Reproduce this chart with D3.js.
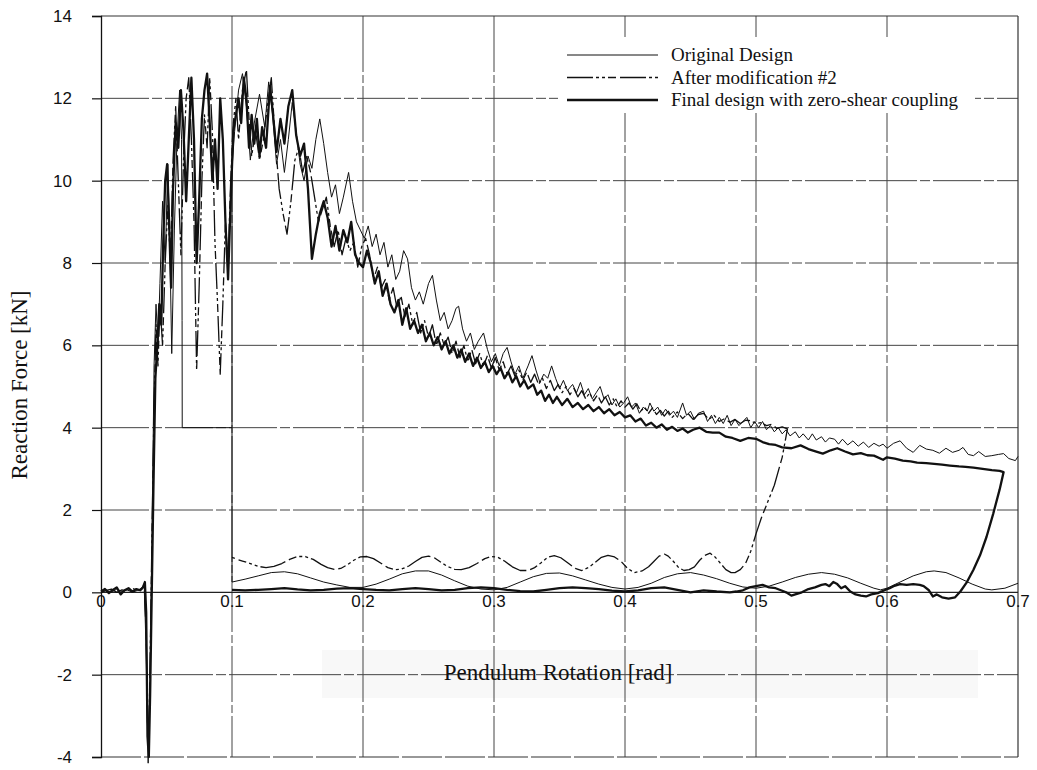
<!DOCTYPE html>
<html><head><meta charset="utf-8">
<script src="https://cdn.jsdelivr.net/npm/d3@7"></script>
<style>body{margin:0;background:#fff;}svg{display:block}</style>
</head><body><svg id="c" width="1037" height="770"></svg>
<script>
// ---- axis ticks ----
const xTicks = [0, 0.1, 0.2, 0.3, 0.4, 0.5, 0.6, 0.7];
const xTickLabels = ["0", "0.1", "0.2", "0.3", "0.4", "0.5", "0.6", "0.7"];
const yTicks = [-4, -2, 0, 2, 4, 6, 8, 10, 12, 14];
const yTickLabels = ["-4", "-2", "0", "2", "4", "6", "8", "10", "12", "14"];
const seriesNames = ["Original Design", "After modification #2", "Final design with zero-shear coupling"];

// ---- Original Design (thin) ----
const originalUpper = [[0,0],[0.004,0.05],[0.008,0.0],[0.012,0.08],[0.016,0.02],[0.02,0.06],[0.024,0.0],[0.028,0.05],[0.031,0.1],[0.033,0.2],[0.0345,-1.5],[0.036,-4.15],[0.0375,-2.0],[0.039,1.5],[0.0405,5.5],[0.042,7.0],[0.0435,6.0],[0.045,7.5],[0.047,9.5],[0.049,8.0],[0.051,10.4],[0.0525,8.5],[0.054,5.8],[0.056,8.8],[0.058,11.0],[0.060,12.2],[0.0615,11.0],[0.0619,6.6],[0.062,4.0],[0.1,4.0],[0.1,10.3],
[0.102,11.2],[0.105,12.2],[0.108,12.6],[0.111,11.8],[0.114,10.5],[0.117,11.4],[0.121,12.1],[0.125,11.3],[0.128,12.4],[0.131,11.6],[0.134,10.4],[0.137,11.0],[0.14,10.2],[0.143,11.0],[0.146,11.9],[0.149,11.2],[0.152,10.4],[0.155,10.0],[0.158,10.6],[0.161,10.3],[0.164,11.0],[0.167,11.5],[0.170,10.9],[0.173,10.2],[0.176,9.6],[0.179,9.9],[0.182,9.2],[0.185,9.6],[0.189,10.2],[0.192,9.5],[0.195,9.0],[0.198,8.8],[0.201,8.6],[0.204,8.9],[0.207,8.4],[0.21,8.7],[0.213,8.2],[0.216,8.5],[0.219,7.9],[0.222,8.2],[0.225,7.6],[0.228,7.8],[0.231,8.3],[0.234,8.1],[0.237,7.4],[0.24,7.1],[0.243,7.3],[0.246,7.0],[0.25,7.5],[0.253,7.7],[0.256,7.1],[0.259,6.6],[0.262,6.8],[0.265,6.4],[0.268,6.6],[0.271,6.9],[0.273,6.95],[0.276,6.4],[0.279,6.1],[0.282,6.3],[0.285,5.9],[0.288,6.1],[0.292,6.3],[0.295,5.9],[0.298,5.6],[0.301,5.8],[0.304,5.5],[0.307,5.8],[0.31,5.95],[0.313,5.6],[0.316,5.3],[0.319,5.5],[0.322,5.2],[0.326,5.5],[0.329,5.75],[0.332,5.4],[0.335,5.1],[0.338,5.3],[0.341,5.2],[0.344,5.5],[0.347,5.2],[0.35,4.95],[0.353,5.15],[0.356,4.9],[0.36,5.05],[0.363,4.85],[0.366,5.1],[0.369,4.8],[0.372,4.95],[0.375,4.7],[0.378,4.85],[0.381,5.0],[0.384,4.7],[0.387,4.8],[0.39,4.55],[0.393,4.7],[0.396,4.5],[0.399,4.6],[0.402,4.75],[0.405,4.5],[0.408,4.6],[0.411,4.35],[0.414,4.5],[0.417,4.4],[0.419,4.6],[0.422,4.4],[0.425,4.5],[0.428,4.3],[0.431,4.45],[0.434,4.3],[0.437,4.4],[0.44,4.25],[0.444,4.6],[0.447,4.3],[0.45,4.4],[0.453,4.2],[0.456,4.35],[0.46,4.4],[0.463,4.15],[0.466,4.3],[0.469,4.1],[0.472,4.25],[0.475,4.1],[0.478,4.3],[0.481,4.05],[0.484,4.2],[0.487,4.05],[0.49,4.15],[0.493,4.25],[0.496,4.0],[0.499,4.15],[0.502,4.0],[0.505,4.15],[0.508,3.95],[0.511,4.05],[0.514,3.9],[0.517,4.0],[0.52,3.85],[0.523,3.95],[0.526,3.8],[0.53,3.9],[0.533,3.75],[0.536,3.85],[0.54,3.7],[0.543,3.85],[0.546,3.7],[0.55,3.78],[0.553,3.65],[0.556,3.75],[0.56,3.72],[0.563,3.6],[0.566,3.72],[0.57,3.58],[0.574,3.68],[0.578,3.55],[0.582,3.65],[0.586,3.52],[0.59,3.62],[0.594,3.55],[0.597,3.6],[0.6,3.5],[0.605,3.62],[0.61,3.68],[0.615,3.5],[0.62,3.4],[0.625,3.57],[0.63,3.48],[0.635,3.45],[0.64,3.38],[0.645,3.5],[0.65,3.4],[0.655,3.45],[0.658,3.52],[0.662,3.35],[0.666,3.32],[0.67,3.42],[0.675,3.3],[0.68,3.32],[0.685,3.35],[0.689,3.37],[0.693,3.25],[0.698,3.2],[0.7,3.3]];
const originalLower = [[0.1,4.0],[0.1,0.25],[0.11,0.32],[0.12,0.4],[0.13,0.48],[0.14,0.5],[0.15,0.45],[0.16,0.35],[0.17,0.25],[0.18,0.18],[0.19,0.12],[0.2,0.12],[0.21,0.2],[0.22,0.32],[0.23,0.45],[0.24,0.52],[0.25,0.52],[0.26,0.42],[0.27,0.28],[0.28,0.15],[0.29,0.08],[0.3,0.06],[0.31,0.12],[0.32,0.25],[0.33,0.38],[0.34,0.46],[0.35,0.47],[0.36,0.4],[0.37,0.3],[0.38,0.2],[0.39,0.12],[0.4,0.08],[0.41,0.12],[0.42,0.22],[0.43,0.36],[0.44,0.45],[0.45,0.48],[0.46,0.42],[0.47,0.33],[0.48,0.22],[0.49,0.13],[0.5,0.1],[0.51,0.15],[0.52,0.25],[0.53,0.36],[0.54,0.44],[0.55,0.48],[0.56,0.44],[0.57,0.35],[0.58,0.22],[0.59,0.1],[0.595,0.06],[0.6,0.1],[0.61,0.25],[0.62,0.4],[0.63,0.5],[0.636,0.52],[0.645,0.48],[0.655,0.35],[0.665,0.2],[0.675,0.08],[0.68,0.06],[0.69,0.1],[0.7,0.22]];

// ---- After modification #2 (dash-dot) ----
const modifiedLoop = [[0,0.0],[0.004,0.05],[0.008,0.08],[0.012,0.0],[0.016,0.06],[0.02,0.03],[0.024,0.1],[0.028,0.04],[0.031,0.08],[0.033,0.15],[0.0345,-1.0],[0.0355,-3.2],[0.0365,-3.6],[0.0378,-1.0],[0.0392,2.0],[0.0405,4.5],[0.042,6.5],[0.0435,5.5],[0.045,7.0],[0.047,6.0],[0.049,8.0],[0.051,9.4],[0.053,8.0],[0.055,10.5],[0.057,11.8],[0.059,10.0],[0.061,8.2],[0.063,10.5],[0.065,12.0],[0.067,12.5],[0.069,11.0],[0.071,9.0],[0.073,5.4],[0.075,7.5],[0.077,10.0],[0.079,11.6],[0.081,10.8],[0.083,12.5],[0.085,11.2],[0.087,8.5],[0.089,7.0],[0.091,5.3],[0.093,7.0],[0.095,9.0],[0.097,8.0],[0.099,10.0],[0.101,11.4],[0.103,12.0],[0.105,11.0],[0.108,12.2],[0.111,12.7],[0.113,11.5],[0.115,10.6],[0.118,11.2],[0.121,10.5],[0.124,11.0],[0.127,11.8],[0.13,12.5],[0.133,11.0],[0.136,9.8],[0.139,9.2],[0.142,8.7],[0.145,9.5],[0.148,10.5],[0.151,10.8],[0.154,10.2],[0.157,10.6],[0.16,10.2],[0.163,9.6],[0.166,9.0],[0.169,9.3],[0.172,9.6],[0.175,8.9],[0.178,8.4],[0.181,8.8],[0.184,8.2],[0.187,8.6],[0.19,8.3],[0.193,8.5],[0.196,7.9],[0.199,8.4],[0.202,8.6],[0.205,8.2],[0.208,7.6],[0.211,7.9],[0.214,7.4],[0.217,7.6],[0.22,7.1],[0.223,7.4],[0.226,6.9],[0.229,7.2],[0.232,6.7],[0.235,7.0],[0.238,6.5],[0.241,6.8],[0.244,6.3],[0.247,6.6],[0.25,6.2],[0.253,6.5],[0.256,6.0],[0.259,6.3],[0.262,6.0],[0.265,6.2],[0.268,5.8],[0.271,6.1],[0.274,5.7],[0.277,6.0],[0.28,5.6],[0.283,5.9],[0.286,5.55],[0.289,5.8],[0.292,5.5],[0.295,5.75],[0.298,5.45],[0.301,5.7],[0.304,5.4],[0.307,5.6],[0.31,5.3],[0.313,5.5],[0.316,5.25],[0.319,5.4],[0.322,5.15],[0.325,5.35],[0.328,5.1],[0.331,5.3],[0.334,5.05],[0.337,5.2],[0.34,4.95],[0.343,5.15],[0.346,4.9],[0.349,5.05],[0.352,4.85],[0.355,5.0],[0.358,4.8],[0.361,4.95],[0.364,4.75],[0.367,4.9],[0.37,4.7],[0.373,4.85],[0.376,4.65],[0.379,4.8],[0.382,4.6],[0.385,4.75],[0.388,4.55],[0.391,4.7],[0.394,4.5],[0.397,4.65],[0.4,4.5],[0.403,4.6],[0.406,4.45],[0.409,4.58],[0.412,4.4],[0.415,4.5],[0.418,4.35],[0.421,4.48],[0.424,4.32],[0.427,4.42],[0.43,4.28],[0.433,4.4],[0.436,4.25],[0.44,4.38],[0.444,4.22],[0.448,4.35],[0.452,4.2],[0.456,4.32],[0.46,4.35],[0.464,4.2],[0.468,4.3],[0.472,4.15],[0.476,4.22],[0.48,4.13],[0.484,4.2],[0.488,4.1],[0.492,4.18],[0.496,4.17],[0.5,4.1],[0.504,4.12],[0.508,4.05],[0.512,4.08],[0.516,3.98],[0.52,4.02],[0.524,3.97],
[0.52,3.28],[0.514,2.6],[0.509,2.2],[0.504,1.8],[0.5,1.42],[0.496,1.0],[0.492,0.7],[0.488,0.55],[0.484,0.48],[0.481,0.48],[0.477,0.55],[0.473,0.7],[0.469,0.85],[0.465,0.95],[0.461,0.9],[0.457,0.78],[0.453,0.62],[0.449,0.55],[0.445,0.53],[0.441,0.6],[0.437,0.75],[0.433,0.88],[0.43,0.93],[0.426,0.88],[0.422,0.75],[0.418,0.62],[0.413,0.52],[0.407,0.48],[0.402,0.58],[0.397,0.75],[0.392,0.86],[0.387,0.9],[0.382,0.85],[0.377,0.72],[0.372,0.6],[0.367,0.53],[0.362,0.58],[0.357,0.7],[0.351,0.84],[0.346,0.89],[0.341,0.85],[0.336,0.72],[0.331,0.6],[0.326,0.53],[0.32,0.53],[0.314,0.62],[0.308,0.76],[0.303,0.85],[0.298,0.87],[0.293,0.82],[0.287,0.7],[0.281,0.6],[0.275,0.55],[0.27,0.56],[0.265,0.62],[0.26,0.72],[0.255,0.83],[0.25,0.88],[0.245,0.85],[0.24,0.75],[0.235,0.64],[0.229,0.56],[0.224,0.55],[0.219,0.6],[0.214,0.7],[0.208,0.82],[0.203,0.87],[0.198,0.86],[0.193,0.78],[0.188,0.67],[0.183,0.58],[0.178,0.56],[0.173,0.6],[0.168,0.68],[0.162,0.8],[0.156,0.87],[0.15,0.87],[0.144,0.8],[0.138,0.7],[0.132,0.63],[0.126,0.6],[0.12,0.63],[0.114,0.7],[0.108,0.76],[0.104,0.8],[0.1,0.85]];

// ---- Final design with zero-shear coupling (thick) ----
const finalLoop = [[0,0.02],[0.003,0.08],[0.006,-0.02],[0.009,0.06],[0.012,0.12],[0.015,-0.05],[0.018,0.05],[0.021,0.1],[0.024,0.02],[0.027,0.08],[0.03,0.05],[0.032,0.12],[0.0335,0.25],[0.0345,-0.5],[0.0355,-3.5],[0.0365,-4.0],[0.0375,-2.5],[0.0385,-0.5],[0.04,2.5],[0.0415,5.2],[0.043,6.0],[0.0445,7.0],[0.046,6.5],[0.0475,8.5],[0.049,10.0],[0.0505,10.4],[0.052,9.0],[0.0535,7.4],[0.055,9.8],[0.057,11.4],[0.059,10.8],[0.061,12.2],[0.063,11.2],[0.065,9.5],[0.067,11.0],[0.069,12.5],[0.071,11.0],[0.073,8.0],[0.075,9.6],[0.077,11.5],[0.079,12.2],[0.081,12.6],[0.083,11.4],[0.085,10.0],[0.087,11.0],[0.089,9.8],[0.091,12.0],[0.093,11.0],[0.095,9.0],[0.097,7.6],[0.099,9.5],[0.101,11.2],[0.103,11.6],[0.105,12.0],[0.107,11.4],[0.109,12.5],[0.111,12.0],[0.113,10.8],[0.115,11.6],[0.117,10.9],[0.119,11.5],[0.121,10.6],[0.123,11.3],[0.126,10.8],[0.129,12.3],[0.131,11.7],[0.134,10.7],[0.137,11.5],[0.14,10.9],[0.143,11.8],[0.146,12.2],[0.149,11.1],[0.152,10.6],[0.155,10.9],[0.158,9.8],[0.161,8.1],[0.164,8.7],[0.167,9.2],[0.17,9.5],[0.173,9.1],[0.176,8.4],[0.179,8.9],[0.182,8.3],[0.185,8.8],[0.188,8.5],[0.191,9.0],[0.194,8.2],[0.197,8.0],[0.2,7.9],[0.203,8.3],[0.206,8.0],[0.209,7.5],[0.212,7.8],[0.215,7.2],[0.218,7.5],[0.221,7.0],[0.224,6.8],[0.227,7.1],[0.23,6.5],[0.233,6.9],[0.236,6.4],[0.239,6.6],[0.242,6.3],[0.245,6.5],[0.248,6.1],[0.251,6.3],[0.254,6.0],[0.257,6.2],[0.26,5.9],[0.263,6.1],[0.266,5.8],[0.269,6.0],[0.272,5.7],[0.275,5.9],[0.278,5.6],[0.281,5.8],[0.284,5.5],[0.287,5.7],[0.29,5.45],[0.293,5.6],[0.296,5.35],[0.299,5.5],[0.302,5.3],[0.305,5.45],[0.308,5.2],[0.311,5.35],[0.314,5.1],[0.317,5.25],[0.32,5.0],[0.323,5.15],[0.326,4.95],[0.33,5.05],[0.333,4.8],[0.336,4.9],[0.339,4.65],[0.342,4.8],[0.345,4.6],[0.348,4.75],[0.352,4.55],[0.356,4.7],[0.36,4.5],[0.364,4.6],[0.368,4.45],[0.372,4.55],[0.376,4.4],[0.38,4.5],[0.384,4.35],[0.388,4.45],[0.392,4.3],[0.396,4.38],[0.4,4.25],[0.404,4.3],[0.408,4.15],[0.412,4.22],[0.416,4.05],[0.42,4.12],[0.424,4.0],[0.428,4.08],[0.432,3.95],[0.436,4.02],[0.44,3.92],[0.444,3.98],[0.448,3.88],[0.452,3.95],[0.457,4.0],[0.462,3.9],[0.467,3.88],[0.472,3.88],[0.477,3.78],[0.482,3.75],[0.488,3.68],[0.494,3.75],[0.5,3.73],[0.505,3.65],[0.51,3.6],[0.515,3.58],[0.52,3.52],[0.527,3.5],[0.534,3.57],[0.54,3.48],[0.546,3.42],[0.551,3.37],[0.557,3.45],[0.562,3.5],[0.568,3.42],[0.574,3.35],[0.58,3.38],[0.585,3.33],[0.59,3.32],[0.597,3.22],[0.6,3.28],[0.606,3.25],[0.612,3.2],[0.618,3.18],[0.623,3.15],[0.63,3.14],[0.636,3.12],[0.642,3.1],[0.648,3.08],[0.655,3.06],[0.66,3.05],[0.666,3.03],[0.673,3.0],[0.68,2.97],[0.686,2.95],[0.689,2.92],
[0.686,2.5],[0.681,1.9],[0.676,1.35],[0.671,0.9],[0.666,0.55],[0.661,0.25],[0.656,0.02],[0.652,-0.12],[0.647,-0.15],[0.642,-0.12],[0.638,-0.05],[0.635,-0.1],[0.632,0.05],[0.628,0.15],[0.625,0.18],[0.62,0.2],[0.615,0.18],[0.61,0.2],[0.605,0.15],[0.602,0.1],[0.598,0.05],[0.593,-0.02],[0.588,-0.05],[0.584,-0.1],[0.58,-0.08],[0.576,-0.05],[0.572,0.02],[0.568,0.15],[0.565,0.1],[0.562,0.2],[0.559,0.25],[0.556,0.15],[0.553,0.2],[0.55,0.18],[0.545,0.12],[0.54,0.08],[0.535,0.0],[0.53,-0.05],[0.527,-0.08],[0.523,0.0],[0.519,0.05],[0.515,0.1],[0.51,0.12],[0.505,0.18],[0.5,0.15],[0.495,0.12],[0.49,0.05],[0.485,0.02],[0.48,0.0],[0.47,0.02],[0.46,0.05],[0.45,0.0],[0.44,0.06],[0.43,0.12],[0.42,0.1],[0.41,0.05],[0.4,0.02],[0.39,0.04],[0.38,0.08],[0.37,0.1],[0.36,0.12],[0.35,0.1],[0.34,0.06],[0.33,0.02],[0.32,0.03],[0.31,0.06],[0.3,0.1],[0.29,0.12],[0.28,0.1],[0.27,0.06],[0.26,0.05],[0.25,0.08],[0.24,0.1],[0.23,0.08],[0.22,0.05],[0.21,0.06],[0.2,0.08],[0.19,0.1],[0.18,0.09],[0.17,0.06],[0.16,0.05],[0.15,0.07],[0.14,0.1],[0.13,0.08],[0.12,0.06],[0.11,0.05],[0.1,0.06]];

// ---- drawing ----
const svg = d3.select("#c");
const x = d3.scaleLinear().domain([0, 0.7]).range([101, 1018]);
const y = d3.scaleLinear().domain([-4, 14]).range([757, 16]);
const sans = "'Liberation Sans', Arial, sans-serif";
const serif = "'Liberation Serif', 'Times New Roman', serif";
const dashPattern = "26,3,3,3,3,3,8,4";

svg.append("rect").attr("width", 1037).attr("height", 770).attr("fill", "#fff");
// faint scan band behind x title
svg.append("rect").attr("x", 322).attr("y", 650).attr("width", 656).attr("height", 48).attr("fill", "#f8f8f8");

const grid = svg.append("g");
grid.selectAll("line.h").data(yTicks.filter(t => t !== 0 && t !== 14 && t !== -4)).join("line")
  .attr("x1", x(0)).attr("x2", x(0.7)).attr("y1", d => y(d)).attr("y2", d => y(d))
  .attr("stroke", "#444").attr("stroke-width", 1).attr("stroke-dasharray", "48,3,10,3");
grid.selectAll("line.v").data(xTicks.filter(t => t > 0 && t < 0.7)).join("line")
  .attr("x1", d => x(d)).attr("x2", d => x(d)).attr("y1", y(14)).attr("y2", y(-4))
  .attr("stroke", "#444").attr("stroke-width", 1).attr("stroke-dasharray", "56,3,8,3");
// frame
grid.append("line").attr("x1", x(0)).attr("x2", x(0.7)).attr("y1", y(14)).attr("y2", y(14)).attr("stroke", "#333").attr("stroke-width", 1.2);
grid.append("line").attr("x1", x(0)).attr("x2", x(0.7)).attr("y1", y(-4)).attr("y2", y(-4)).attr("stroke", "#333").attr("stroke-width", 1.2).attr("stroke-dasharray", "40,3");
grid.append("line").attr("x1", x(0.7)).attr("x2", x(0.7)).attr("y1", y(14)).attr("y2", y(-4)).attr("stroke", "#333").attr("stroke-width", 1.2);
grid.append("line").attr("x1", x(0)).attr("x2", x(0.7)).attr("y1", y(0)).attr("y2", y(0)).attr("stroke", "#222").attr("stroke-width", 1.2);

// y axis
const yAxis = d3.axisLeft(y).tickValues(yTicks).tickFormat((d, i) => yTickLabels[i]).tickSize(9).tickPadding(20);
const ya = svg.append("g").attr("transform", `translate(${x(0)},0)`).call(yAxis);
ya.select(".domain").attr("stroke", "#111").attr("stroke-width", 1.3);
ya.selectAll(".tick line").attr("stroke", "#111").attr("stroke-width", 1.2);
ya.selectAll("text").attr("font-family", sans).attr("font-size", 17).attr("fill", "#111");

// x tick labels (inside plot, just below the zero line)
svg.append("g").selectAll("text").data(xTicks).join("text")
  .attr("x", d => x(d)).attr("y", y(-0.2)).attr("dy", "0.35em").attr("text-anchor", "middle")
  .attr("font-family", sans).attr("font-size", 17).attr("fill", "#111")
  .text((d, i) => xTickLabels[i]);

// series
const line = d3.line().x(d => x(d[0])).y(d => y(d[1]));
const plot = svg.append("g").attr("fill", "none").attr("stroke", "#111").attr("stroke-linejoin", "round");
plot.append("path").attr("d", line(originalLower)).attr("stroke-width", 1);
plot.append("path").attr("d", line(modifiedLoop)).attr("stroke-width", 1.3).attr("stroke-dasharray", dashPattern);
plot.append("path").attr("d", line(originalUpper)).attr("stroke-width", 1);
plot.append("path").attr("d", line(finalLoop)).attr("stroke-width", 2.3);

// legend
const lg = svg.append("g");
lg.append("rect").attr("x", 558).attr("y", 37).attr("width", 417).attr("height", 76).attr("fill", "#fff");
const legendRows = [55, 77.5, 100];
const legendStyles = [{w: 1, dash: null}, {w: 1.3, dash: dashPattern}, {w: 2.3, dash: null}];
seriesNames.forEach((name, i) => {
  lg.append("line").attr("x1", 567).attr("x2", 658).attr("y1", legendRows[i]).attr("y2", legendRows[i])
    .attr("stroke", "#111").attr("stroke-width", legendStyles[i].w)
    .attr("stroke-dasharray", legendStyles[i].dash);
  lg.append("text").attr("x", 671).attr("y", legendRows[i]).attr("dy", "0.33em")
    .attr("font-family", serif).attr("font-size", 19).attr("fill", "#111").text(name);
});

// axis titles
svg.append("text").attr("transform", "translate(27,385) rotate(-90)").attr("text-anchor", "middle")
  .attr("font-family", serif).attr("font-size", 23).attr("fill", "#111").text("Reaction Force [kN]");
svg.append("text").attr("x", 558).attr("y", 680).attr("text-anchor", "middle")
  .attr("font-family", serif).attr("font-size", 23).attr("fill", "#111").text("Pendulum Rotation [rad]");
</script></body></html>
